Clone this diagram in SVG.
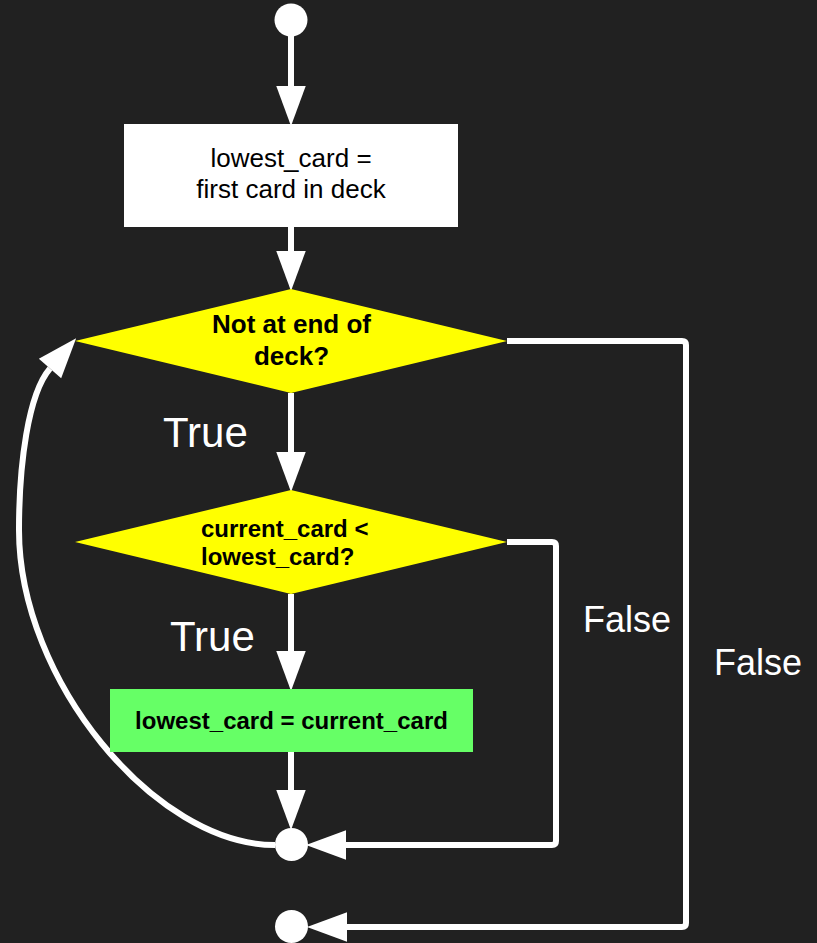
<svg xmlns="http://www.w3.org/2000/svg" width="817" height="943" viewBox="0 0 817 943">
<style>
.bg{fill:#212121}
.term{fill:#ffffff}
.proc{fill:#ffffff}
.dec{fill:#ffff00}
.act{fill:#66ff66}
.conn{fill:none;stroke:#ffffff;stroke-width:6;stroke-linejoin:round}
.t{font-family:"Liberation Sans",Arial,sans-serif;fill:#000000}
.b{font-weight:bold}
.lbl{font-family:"Liberation Sans",Arial,sans-serif;fill:#ffffff}
</style>
<defs>
<marker id="arrow" markerUnits="userSpaceOnUse" markerWidth="40" markerHeight="30" refX="0" refY="14" viewBox="0 0 38 28" orient="auto" overflow="visible">
<path d="M0,0 L38,14 L0,28 z" fill="#ffffff"/>
</marker>
</defs>
<rect class="bg" x="0" y="0" width="817" height="943"/>
<g id="connectors">
<path class="conn" d="M291 36 V86" marker-end="url(#arrow)"/>
<path class="conn" d="M291 227 V251" marker-end="url(#arrow)"/>
<path class="conn" d="M291 393 V452" marker-end="url(#arrow)"/>
<path class="conn" d="M291 594 V651" marker-end="url(#arrow)"/>
<path class="conn" d="M291 752 V790" marker-end="url(#arrow)"/>
<path class="conn" d="M507 542 H552 Q556 542 556 546 V841 Q556 845 552 845 H346" marker-end="url(#arrow)"/>
<path class="conn" d="M507 341 H682 Q686 341 686 345 V923 Q686 927 682 927 H347" marker-end="url(#arrow)"/>
<path class="conn" d="M275 845 C155 845 19 680 19 530 C19 465 28 394 50 368.5" marker-end="url(#arrow)"/>
</g>
<g id="start">
<circle class="term" cx="291" cy="20" r="16.5"/>
</g>
<g id="init">
<rect class="proc" x="124" y="124" width="334" height="103"/>
<text class="t" font-size="26" text-anchor="middle"><tspan x="291" y="167">lowest_card =</tspan><tspan x="291" y="198">first card in deck</tspan></text>
</g>
<g id="loopcond">
<polygon class="dec" points="291,289 507,341 291,393 75,341"/>
<text class="t b" font-size="26" text-anchor="middle"><tspan x="291.5" y="333">Not at end of</tspan><tspan x="291.5" y="365">deck?</tspan></text>
</g>
<g id="compare">
<polygon class="dec" points="291,490 507,542 291,594 75,542"/>
<text class="t b" font-size="24"><tspan x="201" y="537">current_card &lt;</tspan><tspan x="201" y="565">lowest_card?</tspan></text>
</g>
<g id="assign">
<rect class="act" x="110" y="689" width="363" height="63"/>
<text class="t b" font-size="24" text-anchor="middle" x="291.5" y="729">lowest_card = current_card</text>
</g>
<g id="merge">
<circle class="term" cx="291.5" cy="844.5" r="16.5"/>
</g>
<g id="end">
<circle class="term" cx="291.5" cy="926.5" r="16.5"/>
</g>
<g id="labels">
<text class="lbl" font-size="42" x="163" y="447">True</text>
<text class="lbl" font-size="42" x="170" y="651">True</text>
<text class="lbl" font-size="36" x="583" y="632">False</text>
<text class="lbl" font-size="36" x="714" y="675">False</text>
</g>
</svg>
